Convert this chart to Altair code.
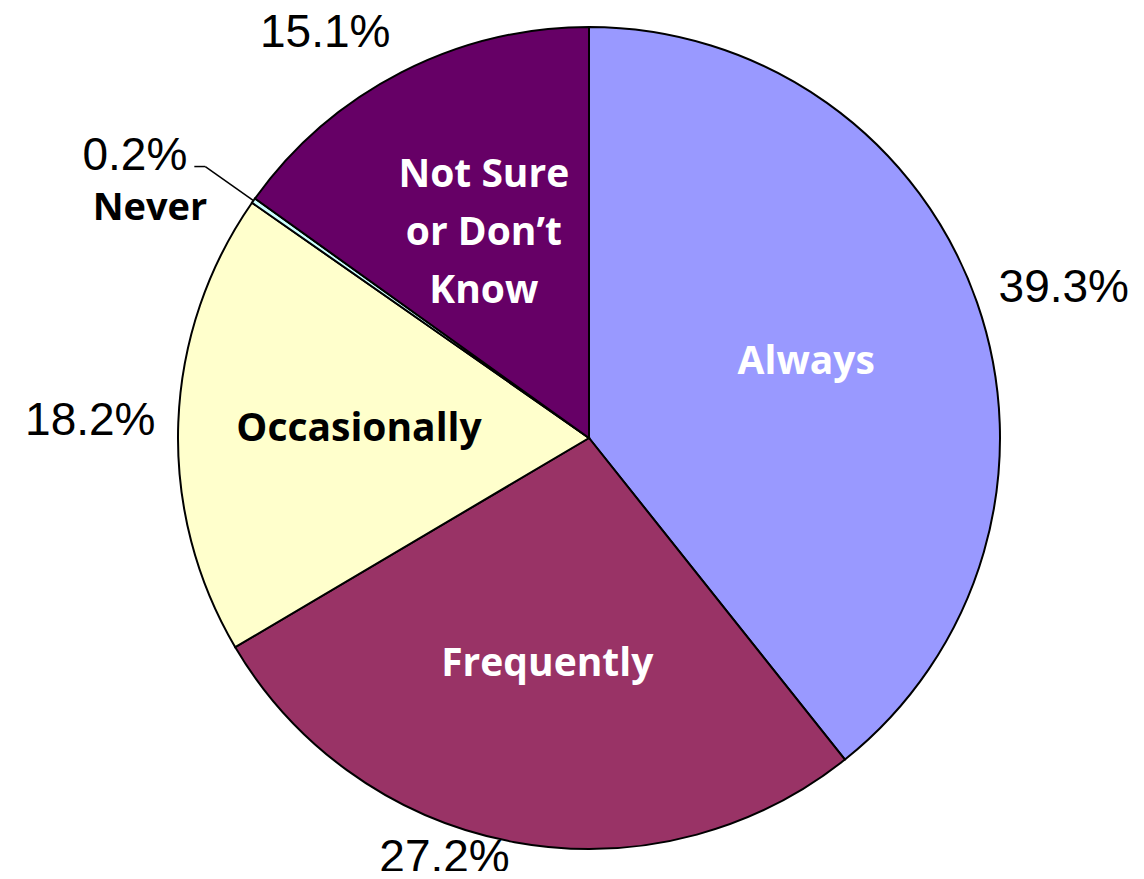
import altair as alt
import pandas as pd

# ---- data ----
categories = ["Always", "Frequently", "Occasionally", "Never", "Not Sure or Don\u2019t Know"]
display_labels = ["Always", "Frequently", "Occasionally", "Never", "Not Sure\nor Don\u2019t\nKnow"]
values = [39.3, 27.2, 18.2, 0.2, 15.1]
pct_labels = ["39.3%", "27.2%", "18.2%", "0.2%", "15.1%"]

# ---- styles ----
slice_colors = ["#9999FF", "#993366", "#FFFFCC", "#CCFFFF", "#660066"]
text_colors = ["#FFFFFF", "#FFFFFF", "#000000", "#000000", "#FFFFFF"]

W, H = 1128, 863
CX, CY, R = 581, 430, 411
GAP = 22          # gap between pie edge and outside label box
PW, PH = 132, 44  # approx. size of a percent label box
INNER = 0.56      # inside label radius fraction
LH = 58           # line height of inside labels
ELBOW = 470       # leader-line elbow radius for tiny slices

df = pd.DataFrame({
    "order": list(range(len(categories))),
    "category": categories,
    "label": display_labels,
    "value": values,
    "pct": pct_labels,
})

base = (
    alt.Chart(df)
    .transform_joinaggregate(total="sum(value)")
    .transform_window(cum="sum(value)", sort=[alt.SortField("order")], frame=[None, 0])
    .transform_calculate(mid="2*PI*(datum.cum - datum.value/2)/datum.total")
)

pie = alt.Chart(df).mark_arc(stroke="black", strokeWidth=2, outerRadius=R).encode(
    theta=alt.Theta("value:Q", stack=True),
    order=alt.Order("order:Q"),
    color=alt.Color("category:N", scale=alt.Scale(domain=categories, range=slice_colors), legend=None),
    x=alt.value(CX),
    y=alt.value(CY),
)

big = base.transform_filter("datum.value >= 1")
small = base.transform_filter("datum.value < 1")

pct_text = big.transform_calculate(
    px=f"{CX} + ({R}+{GAP})*sin(datum.mid) + (sin(datum.mid) < 0 ? -1 : 1)*{PW}/2",
    py=f"clamp({CY} - ({R}+{GAP})*cos(datum.mid) - cos(datum.mid)*{PH}/2, 22, {H-13})",
).mark_text(font="Liberation Sans", fontSize=46, align="center", baseline="middle", color="black").encode(
    x=alt.X("px:Q", scale=None),
    y=alt.Y("py:Q", scale=None),
    text="pct:N",
)

inner_text = big.transform_calculate(
    nl="length(split(datum.label, '\\n'))",
).transform_calculate(
    ix=f"{CX} + {INNER}*{R}*sin(datum.mid)",
    iy=f"{CY} - {INNER}*{R}*cos(datum.mid) - (datum.nl - 1)*{LH}/2",
).mark_text(font="Open Sans", fontWeight="bold", fontSize=39, align="center", baseline="middle",
            lineBreak="\n", lineHeight=LH).encode(
    x=alt.X("ix:Q", scale=None),
    y=alt.Y("iy:Q", scale=None),
    text="label:N",
    color=alt.Color("category:N", scale=alt.Scale(domain=categories, range=text_colors), legend=None),
)

small_c = small.transform_calculate(
    ex=f"{CX} + {R}*sin(datum.mid)",
    ey=f"{CY} - {R}*cos(datum.mid)",
    kx=f"{CX} + {ELBOW}*sin(datum.mid)",
    ky=f"{CY} - {ELBOW}*cos(datum.mid)",
).transform_calculate(hx="datum.kx - 11", tx="datum.kx - 18", ty="datum.ky + 3",
                      nx="datum.kx + 2", ny="datum.ky + 53")

leader1 = small_c.mark_rule(color="black", strokeWidth=1.5).encode(
    x=alt.X("ex:Q", scale=None), y=alt.Y("ey:Q", scale=None),
    x2="kx:Q", y2="ky:Q",
)
leader2 = small_c.mark_rule(color="black", strokeWidth=1.5).encode(
    x=alt.X("kx:Q", scale=None), y=alt.Y("ky:Q", scale=None),
    x2="hx:Q", y2="ky:Q",
)
small_pct = small_c.mark_text(font="Liberation Sans", fontSize=46, align="right", baseline="alphabetic",
                              color="black").encode(
    x=alt.X("tx:Q", scale=None), y=alt.Y("ty:Q", scale=None), text="pct:N",
)
small_name = small_c.mark_text(font="Open Sans", fontWeight="bold", fontSize=38, align="right",
                               baseline="alphabetic", color="black").encode(
    x=alt.X("nx:Q", scale=None), y=alt.Y("ny:Q", scale=None), text="label:N",
)

chart = (
    alt.layer(pie, inner_text, pct_text, leader1, leader2, small_pct, small_name)
    .resolve_scale(color="independent")
    .properties(width=W, height=H, padding=0, autosize=alt.AutoSizeParams(type="none"), background="white")
    .configure_view(stroke=None)
)

chart.save("out.html", embed_options={"renderer": "svg", "actions": False})
